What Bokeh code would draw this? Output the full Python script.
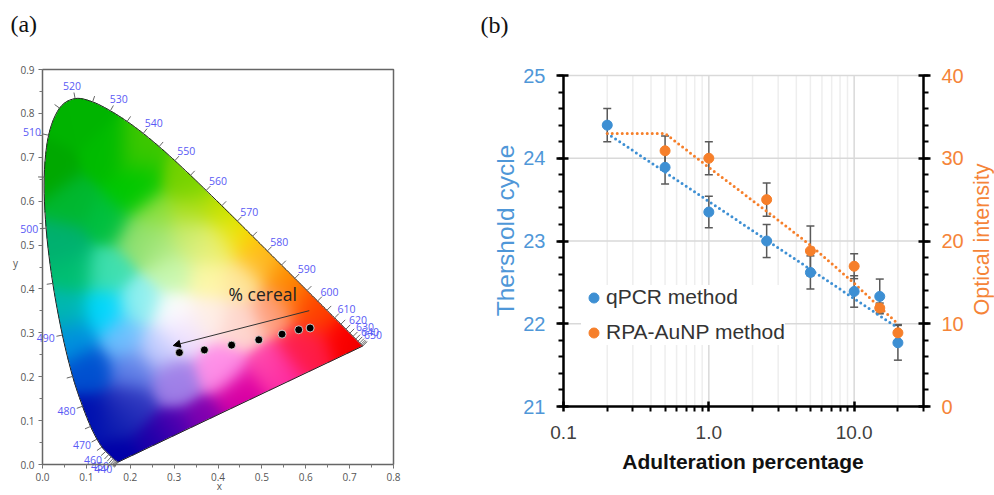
import math
import numpy as np
from bokeh.plotting import figure
from bokeh.layouts import row, column
from bokeh.embed import file_html
from bokeh.resources import INLINE
from bokeh.models import (Range1d, LinearAxis, FixedTicker, SingleIntervalTicker, Arrow, NormalHead,
                          Whisker, TeeHead, ColumnDataSource, Legend, LegendItem, NumeralTickFormatter)
from bokeh.core.properties import value

# ---------- panel (a): chromaticity diagram ----------
locus_nm = [420,425,430,435,440,445,450,455,460,465,470,475,480,485,490,495,500,505,510,515,520,525,530,535,540,545,550,555,
            560,565,570,575,580,585,590,595,600,605,610,615,620,625,630,635,640,645,650,655,660]
locus_x = [.1714,.1703,.1689,.1669,.1644,.1611,.1566,.1510,.1440,.1355,.1241,.1096,.0913,.0687,.0454,.0235,.0082,.0039,.0139,.0389,
           .0743,.1142,.1547,.1929,.2296,.2658,.3016,.3373,.3731,.4087,.4441,.4788,.5125,.5448,.5752,.6029,.6270,.6482,.6658,.6801,
           .6915,.7006,.7079,.7140,.7190,.7230,.7260,.7283,.7300]
locus_y = [.0051,.0058,.0069,.0086,.0109,.0138,.0177,.0227,.0297,.0399,.0578,.0868,.1327,.2007,.2950,.4127,.5384,.6548,.7502,.8120,
           .8338,.8262,.8059,.7816,.7543,.7243,.6923,.6589,.6245,.5896,.5547,.5202,.4866,.4544,.4242,.3965,.3725,.3514,.3340,.3197,
           .3083,.2993,.2920,.2859,.2809,.2770,.2740,.2717,.2700]
labelled_nm = [440,450,460,470,480,490,500,510,520,530,540,550,560,570,580,590,600,610,620,630,640,650]
sample_x = [.610,.584,.546,.493,.431,.369,.312]
sample_y = [.311,.307,.297,.284,.272,.261,.255]
arrow_start = (.608,.3505)
arrow_end = (.298,.271)

# colours at points of the diagram (x, y, colour)
swatch_x = [.071,.223,.223,.32,.43,.46,.50,.58,.63,.68,.72,.603,.527,.467,.375,.26,.175,.20,.30,.405,.32,.30,.375,.45,.527,.375,.30,.223,.26,.337,.148,.07,.14,.223,.056,.07,.185,.262,.109,.207,.109,.17,.07,.148,.018,
            .40,.35,.50,.55,.62,.40,.45,.33,.20,.15,.05,.55,.60,.45,.30,.27,.36]
swatch_y = [.784,.647,.70,.65,.55,.52,.47,.39,.34,.29,.27,.266,.214,.161,.093,.047,.01,.138,.19,.22,.298,.344,.335,.32,.35,.426,.44,.517,.571,.578,.44,.44,.35,.366,.35,.288,.288,.266,.214,.214,.107,.107,.594,.556,.67,
            .59,.64,.49,.44,.37,.50,.42,.52,.62,.70,.50,.20,.25,.13,.07,.50,.50]
swatch_c = ["00b400","00c800","40c800","70d000","d8e800","ffdc00","ffc040","ff8000","ff4000","ff0000","f00000","ff2a50","ff50b0","e000a0","8000b0","1800a8","0000a8","3038c0","a080e8","ff90e8","f0e0ff","ffffff","fff0e8","ffd8d0","ffa080","fff8a8","c8f8b0","90e070","90e040","b0e020","40e0b0","00c070","00d8ff","90f0f0","00b8b0","0090e0","70c0ff","c8d0ff","0050d0","6080e8","0010b0","1020b0","00b830","00c040","00a800",
            "c0e000","80d800","ffb800","ff9000","ff4000","f0f070","ffe8a0","c8ec70","00c800","00bc00","00b070","ff20a0","ff1040","d000a8","5000b0","a8e880","e0f080"]

# ---------- panel (b) ----------
adulteration = [0.2,0.5,1.0,2.5,5,10,15,20]
qpcr = [24.4,23.89,23.35,23.0,22.62,22.39,22.33,21.77]
qpcr_err = [.2,.2,.19,.2,.2,.19,.21,.21]
rpa_x = [0.5,1.0,2.5,5,10,15,20]
rpa = [30.9,30.0,25.0,18.8,16.95,11.9,8.9]
rpa_err = [1.8,2.0,2.0,3.0,1.5,.6,1.0]
qpcr_trend_x = [0.2,20]
qpcr_trend_y = [24.3,21.95]
rpa_trend_x = [0.2,0.5,1.0,2.5,5,10,15,20]
rpa_trend_y = [33,33,28.9,23.6,19.5,14.9,12,10]
major_x = [0.1,1,10]
minor_x = [.2,.3,.4,.5,.6,.7,.8,.9,2,3,4,5,6,7,8,9,20,30]
cycle_ticks = [22,23,24,25]

BLUE, ORANGE = "#3d8fd3", "#f67f2a"
BLUE_T, ORANGE_T = "#4f97d8", "#f58438"
SANS = "Open Sans"
ARIAL = "Liberation Sans"
SERIF = "Liberation Serif"

def caption(fig, x, y, text, font, size, color, align="center", angle=0.0, style="normal"):
    fig.text(x=[x], y=[y], text=[text], text_font=value(font), text_font_size=size, text_color=color, text_font_style=style,
             text_align=align, text_baseline="middle", angle=angle)

# ---------- figure (a): the frame fills the canvas, axes sit at fixed locations inside it ----------
AX, AY = 351/.8, 395/.9
a = figure(frame_width=478, frame_height=495, output_backend="svg", toolbar_location=None,
           x_range=Range1d(-42/AX, .8+85/AX), y_range=Range1d(-31/AY, .9+69/AY),
           min_border_left=0, min_border_right=0, min_border_top=0, min_border_bottom=0)
a.grid.visible = False
a.outline_line_color = None

lx, ly = np.array(locus_x), np.array(locus_y)
px = np.r_[lx[0], lx, lx[-1]]; py = np.r_[ly[0], ly, ly[-1]]
t = np.linspace(0, 1, 6, endpoint=False)[:, None]
def cr(p):
    p0, p1, p2, p3 = p[:-3], p[1:-2], p[2:-1], p[3:]
    return (.5*((2*p1)+(-p0+p2)*t+(2*p0-5*p1+4*p2-p3)*t**2+(-p0+3*p1-3*p2+p3)*t**3)).T.ravel()
cx = np.r_[cr(px), lx[-1]]; cy = np.r_[cr(py), ly[-1]]

W, H = 351, 395
gx, gy = np.meshgrid((np.arange(W)+.5)/W*.8, (np.arange(H)+.5)/H*.9)
inside = np.zeros_like(gx, dtype=bool)
for i in range(len(cx)):
    j = i-1
    cross = (cy[i] > gy) != (cy[j] > gy)
    inside ^= cross & (gx < (cx[j]-cx[i])*(gy-cy[i])/(cy[j]-cy[i]+1e-12)+cx[i])
sx, sy = np.array(swatch_x), np.array(swatch_y)
sc = np.array([[int(h[k:k+2],16) for k in (0,2,4)] for h in swatch_c], dtype=float)
d2 = (gx[...,None]-sx)**2+(gy[...,None]-sy)**2
wt = np.exp(-d2/(2*.032**2))+1e-9
rgb = (wt[...,None]*sc).sum(-2)/wt.sum(-1, keepdims=True)
img = np.zeros((H,W), dtype=np.uint32)
view = img.view(dtype=np.uint8).reshape((H,W,4))
view[...,:3] = np.clip(rgb,0,255).astype(np.uint8)
view[...,3] = np.where(inside, 255, 0)
a.image_rgba(image=[img], x=0, y=0, dw=.8, dh=.9)

a.line([0,.8,.8], [.9,.9,0], line_color="#666666", line_width=1.5)
a.line(list(cx)+[cx[0]], list(cy)+[cy[0]], line_color="#222222", line_width=1)
tx, ty = np.gradient(lx), np.gradient(ly)
nrm = np.hypot(tx, ty)
nx, ny = -ty/nrm, tx/nrm
a.segment(lx, ly, lx+nx*.014, ly+ny*.014, line_color="#666666", line_width=1)
idx = [locus_nm.index(n) for n in labelled_nm]
a.text(x=lx[idx], y=ly[idx], text=[str(n) for n in labelled_nm], x_offset=nx[idx]*17, y_offset=-ny[idx]*13, text_color="#5a5af5",
       text_font=value(SANS), text_font_size="10.5px", text_align="center", text_baseline="middle")
a.scatter(sample_x, sample_y, size=8, color="black", line_color="#eeeeee", line_width=.8)
a.add_layout(Arrow(end=NormalHead(size=7, fill_color="black", line_color="black"), x_start=arrow_start[0], y_start=arrow_start[1],
                   x_end=arrow_end[0], y_end=arrow_end[1], line_color="#333333", line_width=1))
caption(a, .502, .389, "% cereal", SANS, "17.5px", "#222222")
for ax, end, where in ((a.xaxis[0], .8, 0), (a.yaxis[0], .9, 0)):
    ax.fixed_location = where
    ax.bounds = (0, end)
    ax.ticker = SingleIntervalTicker(interval=.1, num_minor_ticks=2)
    ax.formatter = NumeralTickFormatter(format="0.0")
    ax.axis_line_color = "#666666"; ax.axis_line_width = 1.5
    ax.major_tick_line_color = "#666666"; ax.minor_tick_line_color = "#777777"
    ax.major_tick_in = 0; ax.major_tick_out = 4; ax.minor_tick_in = 0; ax.minor_tick_out = 3
    ax.major_label_text_font = SANS; ax.major_label_text_font_size = "10px"; ax.major_label_text_color = "#555555"
    ax.major_label_standoff = 4
caption(a, -.0615, .458, "y", SANS, "10px", "#555555")
caption(a, .403, -.05, "x", SANS, "10px", "#555555")
caption(a, -.073, 1.003, "(a)", SERIF, "24px", "#111111", align="left")

# ---------- figure (b) ----------
DEC = 360/math.log10(300)      # pixels per decade
UY = 331/4                     # pixels per threshold cycle
b = figure(frame_width=516, frame_height=495, output_backend="svg", toolbar_location=None, x_axis_type="log",
           x_range=Range1d(.1*10**(-85/DEC), 30*10**(71/DEC)), y_range=Range1d(21-89/UY, 25+75/UY),
           min_border_left=0, min_border_right=0, min_border_top=0, min_border_bottom=0)
b.outline_line_color = None
b.grid.visible = False
b.extra_y_ranges = {"y2": Range1d(-890/UY, 40+750/UY)}

# grid lines stop at the axes, so they are drawn from the tick lists, beneath the error bars
b.segment(x0=minor_x, y0=[21]*len(minor_x), x1=minor_x, y1=[25]*len(minor_x), line_color="#eeeeee", line_width=1.5, level="image")
b.segment(x0=major_x, y0=[21]*len(major_x), x1=major_x, y1=[25]*len(major_x), line_color="#d9d9d9", line_width=1.5, level="image")
b.segment(x0=[.1]*len(cycle_ticks), y0=cycle_ticks, x1=[30]*len(cycle_ticks), y1=cycle_ticks, line_color="#d9d9d9", line_width=1.5, level="image")

right = LinearAxis(y_range_name="y2", fixed_location=30, bounds=(0,40))
b.add_layout(right, "right")
xa, ya = b.xaxis[0], b.yaxis[0]
xa.fixed_location = 21; xa.bounds = (.1,30)
ya.fixed_location = .1; ya.bounds = (21,25)
xa.ticker = FixedTicker(ticks=major_x, minor_ticks=minor_x)
xa.formatter = NumeralTickFormatter(format="0.0")
xa.major_label_text_font = ARIAL; xa.major_label_text_font_size = "19px"; xa.major_label_text_color = "#404040"; xa.major_label_standoff = 14
xa.major_tick_in = 5; xa.major_tick_out = 5; xa.minor_tick_in = 0; xa.minor_tick_out = 5
for ax, col, tick in ((ya, BLUE_T, 1), (right, ORANGE_T, 10)):
    ax.ticker = SingleIntervalTicker(interval=tick, num_minor_ticks=5)
    ax.major_label_text_font = ARIAL; ax.major_label_text_font_size = "20px"; ax.major_label_text_color = col; ax.major_label_standoff = 11
    ax.major_tick_in = 5; ax.major_tick_out = 7; ax.minor_tick_in = 0; ax.minor_tick_out = 5
for ax in (xa, ya, right):
    ax.axis_line_color = "black"; ax.axis_line_width = 2.5
    ax.major_tick_line_color = "black"; ax.major_tick_line_width = 2.5
    ax.minor_tick_line_color = "black"; ax.minor_tick_line_width = 2
caption(b, .1*10**((742.5-563)/DEC), 21-55/UY, "Adulteration percentage", ARIAL, "21px", "#111111", style="bold")
caption(b, .1*10**(-58/DEC), 25-155/UY, "Thershold cycle", ARIAL, "24.5px", BLUE_T, angle=math.pi/2)
caption(b, 30*10**(58/DEC), 25-164/UY, "Optical intensity", ARIAL, "21.5px", ORANGE_T, angle=math.pi/2)
caption(b, .1*10**(-83/DEC), 25+51/UY, "(b)", SERIF, "24px", "#111111", align="left")

b.line(qpcr_trend_x, qpcr_trend_y, line_color=BLUE, line_width=3, line_dash="0 5", line_cap="round")
b.line(rpa_trend_x, rpa_trend_y, y_range_name="y2", line_color=ORANGE, line_width=3, line_dash="0 5", line_cap="round")

q = np.array(qpcr); qe = np.array(qpcr_err)
o = np.array(rpa); oe = np.array(rpa_err)
sq = ColumnDataSource(dict(x=adulteration, u=q+qe, l=q-qe))
so = ColumnDataSource(dict(x=rpa_x, u=o+oe, l=o-oe))
WH = "#5a5a5a"
b.add_layout(Whisker(source=sq, base="x", upper="u", lower="l", line_color=WH, line_width=1.5,
                     upper_head=TeeHead(size=8, line_color=WH, line_width=1.5), lower_head=TeeHead(size=8, line_color=WH, line_width=1.5)))
b.add_layout(Whisker(source=so, base="x", upper="u", lower="l", y_range_name="y2", line_color=WH, line_width=1.5,
                     upper_head=TeeHead(size=8, line_color=WH, line_width=1.5), lower_head=TeeHead(size=8, line_color=WH, line_width=1.5)))
r1 = b.scatter(adulteration, qpcr, size=10, color=BLUE)
r2 = b.scatter(rpa_x, rpa, y_range_name="y2", size=10, color=ORANGE)
legend = Legend(items=[LegendItem(label="qPCR method", renderers=[r1]), LegendItem(label="RPA-AuNP method", renderers=[r2])],
                location=(103,150.5), padding=5, margin=0, spacing=10, glyph_width=25, glyph_height=25, label_height=25, label_standoff=0,
                label_text_font=ARIAL, label_text_font_size="21px", label_text_color="#333333", border_line_color=None,
                background_fill_color="white", background_fill_alpha=1)
b.add_layout(legend)

open("out.html", "w").write(file_html(row(column(a), column(b)), INLINE))
